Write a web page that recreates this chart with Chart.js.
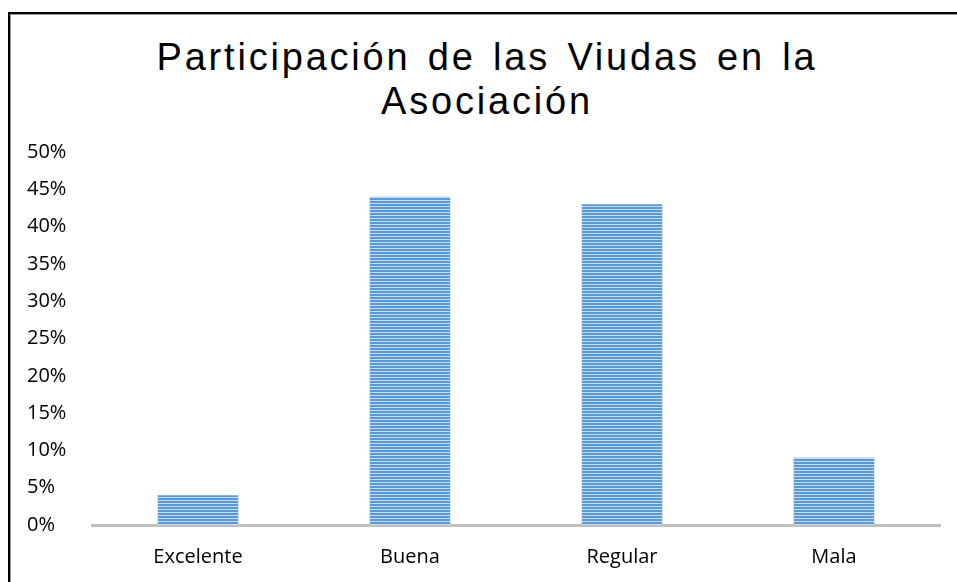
<!DOCTYPE html>
<html>
<head>
<meta charset="utf-8">
<script src="https://cdn.jsdelivr.net/npm/chart.js@4"></script>
<style>
  html, body { margin: 0; padding: 0; background: #fff; overflow: hidden; }
  #frame {
    position: absolute; left: 8px; top: 12px; width: 1000px; height: 700px;
    border-left: 2px solid #000; border-top: 2px solid #000;
    box-shadow: inset 1px 1px 0 #999;
  }
  #title {
    position: absolute; left: 8px; top: 35px; width: 958px;
    text-align: center; font-family: "Liberation Sans", Arial, sans-serif;
    font-size: 38px; line-height: 44px; letter-spacing: 2.8px; word-spacing: 4px; color: #000;
  }
  #wrap { position: absolute; left: 0; top: 0; width: 957px; height: 582px; }
</style>
</head>
<body>
<div id="frame"></div>
<div id="title">Participación de las Viudas en la<br>Asociación</div>
<div id="wrap"><canvas id="chart" width="957" height="582"></canvas></div>
<script>
const categories = ['Excelente', 'Buena', 'Regular', 'Mala'];
const values = [4, 44, 43, 9];
const yTicks = [0, 5, 10, 15, 20, 25, 30, 35, 40, 45, 50];

function stripePattern() {
  const c = document.createElement('canvas');
  c.width = 4;
  c.height = 3;
  const g = c.getContext('2d');
  g.fillStyle = '#5b9bd5';
  g.fillRect(0, 0, 4, 2);
  g.fillStyle = '#c6dbf0';
  g.fillRect(0, 2, 4, 1);
  return g.createPattern(c, 'repeat');
}

new Chart(document.getElementById('chart'), {
  type: 'bar',
  data: {
    labels: categories,
    datasets: [{
      data: values,
      backgroundColor: stripePattern(),
      borderWidth: 0,
      barPercentage: 0.38,
      categoryPercentage: 1
    }]
  },
  options: {
    responsive: false,
    animation: false,
    layout: { padding: { left: 27, right: 17, top: 152, bottom: 0 } },
    plugins: {
      legend: { display: false },
      title: { display: false },
      tooltip: { enabled: false }
    },
    scales: {
      x: {
        grid: { display: false, drawTicks: false },
        border: { display: true, color: '#bfbfbf', width: 3 },
        ticks: {
          color: '#000',
          padding: 20,
          font: { family: 'Open Sans', size: 20 }
        },
        afterFit: s => { s.height = 57; }
      },
      y: {
        min: 0,
        max: 50,
        afterBuildTicks: s => { s.ticks = yTicks.map(v => ({ value: v })); },
        grid: { display: false, drawTicks: false },
        border: { display: false },
        ticks: {
          color: '#000',
          crossAlign: 'far',
          padding: 0,
          font: { family: 'Open Sans', size: 20 },
          callback: v => v + '%'
        },
        afterFit: s => { s.width = 65; }
      }
    }
  }
});
</script>
</body>
</html>
